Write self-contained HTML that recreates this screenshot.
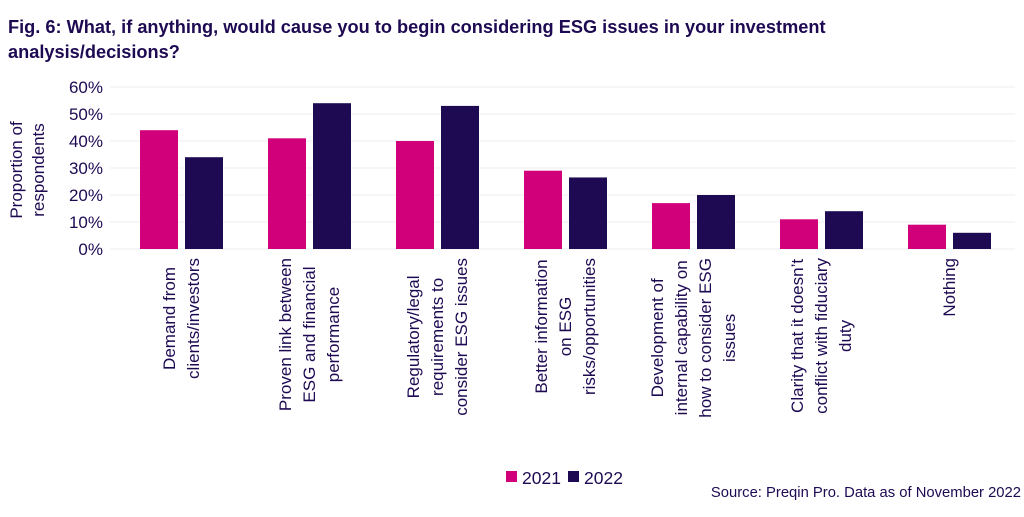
<!DOCTYPE html>
<html><head><meta charset="utf-8"><style>
body{margin:0;background:#fff;width:1024px;height:512px;overflow:hidden}
svg text{font-family:"Liberation Sans",sans-serif;fill:#1e0a52}
</style></head><body>
<svg id="c" width="1024" height="512" xmlns="http://www.w3.org/2000/svg">
<text x="8" y="33" font-size="18.2" font-weight="bold">Fig. 6: What, if anything, would cause you to begin considering ESG issues in your investment</text>
<text x="8" y="58" font-size="18.2" font-weight="bold">analysis/decisions?</text>
<g id="grid"></g><g id="bars"></g><g id="labels"></g>
<text transform="translate(22,170) rotate(-90)" font-size="17" text-anchor="middle"><tspan x="0" dy="0">Proportion of</tspan><tspan x="0" dy="22">respondents</tspan></text>
<rect x="506" y="471" width="11" height="11" fill="#d1007a"/>
<text x="522" y="484" font-size="17.5">2021</text>
<rect x="568" y="471" width="11" height="11" fill="#1e0a52"/>
<text x="584" y="484" font-size="17.5">2022</text>
<text x="1021" y="497" font-size="14.8" text-anchor="end">Source: Preqin Pro. Data as of November 2022</text>
</svg>
<script>
const categories=[["Demand from","clients/investors"],["Proven link between","ESG and financial","performance"],["Regulatory/legal","requirements to","consider ESG issues"],["Better information","on ESG","risks/opportunities"],["Development of","internal capability on","how to consider ESG","issues"],["Clarity that it doesn\u2019t","conflict with fiduciary","duty"],["Nothing"]];
const values2021=[44,41,40,29,17,11,9];
const values2022=[34,54,53,26.5,20,14,6];
const ticks=[0,10,20,30,40,50,60];
const ns="http://www.w3.org/2000/svg";
const y=v=>249-v*2.7;
const gx=i=>140+i*128;
function mk(t,a,p){const e=document.createElementNS(ns,t);for(const k in a)e.setAttribute(k,a[k]);p.appendChild(e);return e;}
const G=document.getElementById('grid'),B=document.getElementById('bars'),L=document.getElementById('labels');
ticks.forEach(t=>{
 const l=mk('line',{x1:110,x2:1015,y1:y(t),y2:y(t),stroke:'#eeeef3','stroke-width':1},G);
 
 
 const tx=mk('text',{x:103,y:y(t)+6,'font-size':17,'text-anchor':'end'},G);tx.textContent=t+'%';
 
 
});
categories.forEach((c,i)=>{
 const a=mk('rect',{x:gx(i),y:y(values2021[i]),width:38,height:values2021[i]*2.7,fill:'#d1007a'},B);
 
 
 const b=mk('rect',{x:gx(i)+45,y:y(values2022[i]),width:38,height:values2022[i]*2.7,fill:'#1e0a52'},B);
 
 
 const cx=gx(i)+41, n=c.length, lh=24;
 const t=mk('text',{'font-size':17,'text-anchor':'middle'},L);
 
 
 c.forEach((s,j)=>{const sp=mk('tspan',{x:0,y:j*lh},t);sp.textContent=s;});
 let mx=0;for(const sp of t.childNodes)mx=Math.max(mx,sp.getComputedTextLength());
 t.setAttribute('transform',`translate(${cx-(n-1)/2*lh+6},${258+mx/2}) rotate(-90)`);
});
</script>
</body></html>
